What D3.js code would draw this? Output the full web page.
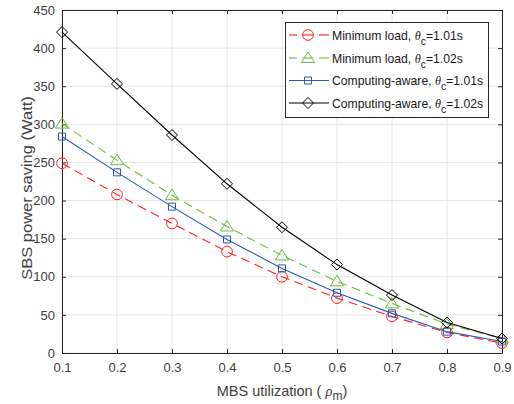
<!DOCTYPE html>
<html><head><meta charset="utf-8">
<script src="https://cdn.jsdelivr.net/npm/d3@7"></script>
<style>body{margin:0;background:#fff;} text{font-family:"Liberation Sans",Arial,sans-serif;}</style>
</head><body>
<svg id="c" width="514" height="404"></svg>
<script>
const xValues = [0.1,0.2,0.3,0.4,0.5,0.6,0.7,0.8,0.9];
const minLoad101 = [249,208,170,133,100,72,48,27,13];
const minLoad102 = [301,253,207,166,128,94,65,38,19];
const compAware101 = [284,237,192,149,111,79,52,28,15];
const compAware102 = [421,353,286,222,165,116,76,40,19];
const xTicks = [0.1,0.2,0.3,0.4,0.5,0.6,0.7,0.8,0.9];
const yTicks = [0,50,100,150,200,250,300,350,400,450];
const seriesNames = ["Minimum load, ", "Minimum load, ", "Computing-aware, ", "Computing-aware, "];
const seriesTheta = ["=1.01s","=1.02s","=1.01s","=1.02s"];

const series = [
  {vals:minLoad101, color:"#ff2020", dash:"9,5.5", marker:"circle"},
  {vals:minLoad102, color:"#6cbd3c", dash:"9,5.5", marker:"triangle"},
  {vals:compAware101, color:"#2d5bb3", dash:null, marker:"square"},
  {vals:compAware102, color:"#000000", dash:null, marker:"diamond"}
];

const svg = d3.select("#c");
const L=62, R=502, T=10, B=353;
const x = d3.scaleLinear().domain([0.1,0.9]).range([L,R]);
const y = d3.scaleLinear().domain([0,450]).range([B,T]);

// grid
svg.append("g").selectAll("line").data(xTicks).join("line")
  .attr("x1",d=>x(d)).attr("x2",d=>x(d)).attr("y1",T).attr("y2",B)
  .attr("stroke","#e6e6e6").attr("stroke-width",1);
svg.append("g").selectAll("line").data(yTicks).join("line")
  .attr("x1",L).attr("x2",R).attr("y1",d=>y(d)).attr("y2",d=>y(d))
  .attr("stroke","#e6e6e6").attr("stroke-width",1);

// axes
const axB = svg.append("g").attr("transform",`translate(0,${B})`)
  .call(d3.axisBottom(x).tickValues(xTicks).tickFormat(d3.format(".1f")).tickSizeInner(-4).tickSizeOuter(0).tickPadding(10));
const axL = svg.append("g").attr("transform",`translate(${L},0)`)
  .call(d3.axisLeft(y).tickValues(yTicks).tickSizeInner(-4).tickSizeOuter(0).tickPadding(7));
const axT = svg.append("g").attr("transform",`translate(0,${T})`)
  .call(d3.axisTop(x).tickValues(xTicks).tickFormat("").tickSizeInner(-4).tickSizeOuter(0));
const axR = svg.append("g").attr("transform",`translate(${R},0)`)
  .call(d3.axisRight(y).tickValues(yTicks).tickFormat("").tickSizeInner(-4).tickSizeOuter(0));
[axB,axL,axT,axR].forEach(a=>{
  a.selectAll("path").attr("stroke","#262626").attr("stroke-width",1);
  a.selectAll("line").attr("stroke","#262626");
  a.selectAll("text").attr("fill","#404040").attr("font-size","13px").attr("font-family","Liberation Sans, Arial, sans-serif");
});

// lines and markers
const sym = {circle:d3.symbolCircle, square:d3.symbolSquare};
const symSize = {circle:90, square:49};
function drawMarker(g, type, cx, cy, color){
  if(type==="diamond"){
    const s=5.5;
    g.append("path").attr("d",`M${cx},${cy-s}L${cx+s},${cy}L${cx},${cy+s}L${cx-s},${cy}Z`)
      .attr("fill","none").attr("stroke",color).attr("stroke-width",1);
  } else if(type==="triangle"){
    const s=6;
    g.append("path").attr("d",`M${cx},${cy-s}L${cx+s*1.1},${cy+s*0.75}L${cx-s*1.1},${cy+s*0.75}Z`)
      .attr("fill","none").attr("stroke",color).attr("stroke-width",1);
  } else {
    g.append("path").attr("transform",`translate(${cx},${cy})`)
      .attr("d",d3.symbol(sym[type],symSize[type])())
      .attr("fill","none").attr("stroke",color).attr("stroke-width",1);
  }
}
const line = d3.line().x((d,i)=>x(xValues[i])).y(d=>y(d));
series.forEach(s=>{
  const g = svg.append("g");
  g.append("path").attr("d",line(s.vals)).attr("fill","none").attr("stroke",s.color)
    .attr("stroke-width",1.1).attr("stroke-dasharray",s.dash);
  s.vals.forEach((v,i)=>drawMarker(g,s.marker,x(xValues[i]),y(v),s.color));
});

// legend
const lg = svg.append("g");
lg.append("rect").attr("x",285.5).attr("y",22.5).attr("width",203).attr("height",95)
  .attr("fill","#fff").attr("stroke","#262626").attr("stroke-width",1);
const rowY = [35,58,80.5,103];
series.forEach((s,i)=>{
  const yy=rowY[i];
  if(s.dash){
    lg.append("line").attr("x1",289).attr("x2",297).attr("y1",yy).attr("y2",yy).attr("stroke",s.color).attr("stroke-width",1.1);
    lg.append("line").attr("x1",319).attr("x2",329).attr("y1",yy).attr("y2",yy).attr("stroke",s.color).attr("stroke-width",1.1);
    lg.append("line").attr("x1",303).attr("x2",313).attr("y1",yy).attr("y2",yy).attr("stroke",s.color).attr("stroke-width",1.1);
  } else {
    lg.append("line").attr("x1",289).attr("x2",329).attr("y1",yy).attr("y2",yy).attr("stroke",s.color).attr("stroke-width",1.1);
  }
  drawMarker(lg,s.marker,308,yy,s.color);
  const t = lg.append("text").attr("x",332).attr("y",yy+4.5).attr("font-size","12.2px").attr("fill","#1a1a1a");
  t.append("tspan").text(seriesNames[i]);
  t.append("tspan").attr("font-family","Liberation Serif, serif").attr("font-style","italic").text("θ");
  t.append("tspan").attr("dy",5).attr("font-size","10.5px").text("c");
  t.append("tspan").attr("dy",-5).text(seriesTheta[i]);
});

// axis labels
const xl = svg.append("text").attr("x",282).attr("y",396).attr("text-anchor","middle")
  .attr("font-size","14.5px").attr("fill","#404040");
xl.append("tspan").text("MBS utilization ( ");
xl.append("tspan").attr("font-family","Liberation Serif, serif").attr("font-style","italic").text("ρ");
xl.append("tspan").attr("dy",4).attr("font-size","12px").text("m");
xl.append("tspan").attr("dy",-4).text(")");

svg.append("text").attr("transform","translate(32,188) scale(0.87,1) rotate(-90)").attr("text-anchor","middle")
  .attr("font-size","16.5px").attr("fill","#404040").text("SBS power saving (Watt)");
</script>
</body></html>
